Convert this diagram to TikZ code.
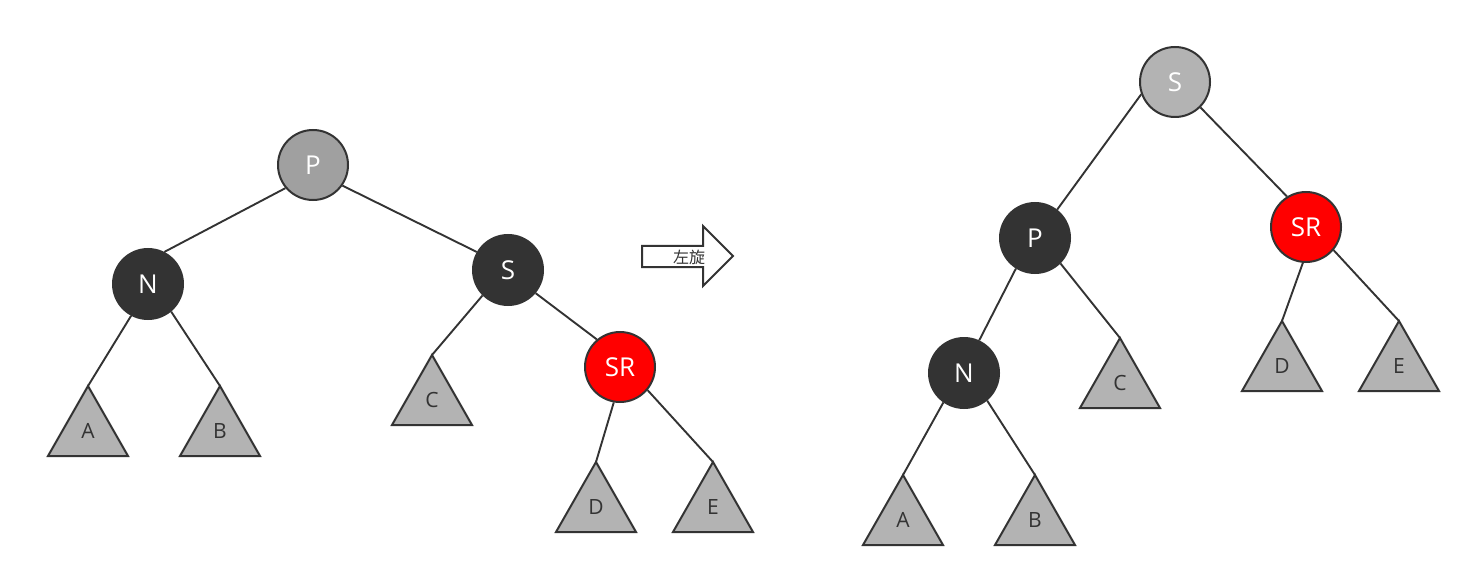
\documentclass[tikz,border=0pt]{standalone}
\usepackage{fontspec}
\setmainfont{Open Sans}
\newfontfamily\cjk{Noto Sans CJK SC}
\definecolor{ink}{HTML}{333333}
\definecolor{midgray}{HTML}{A0A0A0}
\definecolor{lightgray}{HTML}{B3B3B3}
\definecolor{redfill}{HTML}{FF0000}
\begin{document}
\begin{tikzpicture}[x=1pt,y=-1pt,
  rbnode/.style={circle, draw=ink, line width=2pt, inner sep=0pt,
    minimum size=70pt, text=white, font=\fontsize{26}{26}\selectfont},
  blacknode/.style={rbnode, fill=ink},
  rednode/.style={rbnode, fill=redfill},
  graynode/.style={rbnode, fill=midgray},
  lgraynode/.style={rbnode, fill=lightgray},
  subtree/.style={draw=ink, line width=2pt, fill=lightgray, line join=miter},
  sublabel/.style={text=ink, font=\fontsize{21}{21}\selectfont, inner sep=0pt},
  link/.style={draw=ink, line width=1.9pt}
]
\useasboundingbox (0,0) rectangle (1471,577);

% subtree triangle: apex name, apex x, apex y, label
\newcommand{\subtri}[4]{%
  \coordinate (#1) at (#2,#3);
  \path[subtree] (#1) -- ++(40,70) -- ++(-80,0) -- cycle;
  \node[sublabel] (#1lbl) at (#2,#3+45) {#4};
}

% ---- tree before the rotation ----
\node[graynode]  (P1)  at (313,165) {P};
\node[blacknode] (N1)  at (148,284) {N};
\node[blacknode] (S1)  at (508,270) {S};
\node[rednode]   (SR1) at (620,367) {SR};

\subtri{A1}{88}{386}{A}
\subtri{B1}{220}{386}{B}
\subtri{C1}{432}{355}{C}
\subtri{D1}{596}{462}{D}
\subtri{E1}{713}{462}{E}

\draw[link] (P1.220) -- (N1.63);
\draw[link] (P1.-35) -- (S1.150);
\draw[link] (N1.-118) -- (A1);
\draw[link] (N1.-50) -- (B1);
\draw[link] (S1.-135) -- (C1);
\draw[link] (S1.-40) -- (SR1.130);
\draw[link] (SR1.-100) -- (D1);
\draw[link] (SR1.-40) -- (E1);

% ---- rotation arrow ----
\draw[draw=ink, fill=white, line width=2pt, line join=miter]
  (642,246) -- (703,246) -- (703,226) -- (733,256) -- (703,286)
  -- (703,267) -- (642,267) -- cycle;
\node[text=ink, font=\cjk\fontsize{16}{16}\selectfont, inner sep=0pt] (rotlbl) at (689,257) {左旋};

% ---- tree after the rotation ----
\node[lgraynode] (S2)  at (1175,82) {S};
\node[blacknode] (P2)  at (1035,238) {P};
\node[rednode]   (SR2) at (1306,227) {SR};
\node[blacknode] (N2)  at (964,373) {N};

\subtri{C2}{1120}{338}{C}
\subtri{D2}{1282}{321}{D}
\subtri{E2}{1399}{321}{E}
\subtri{A2}{903}{475}{A}
\subtri{B2}{1035}{475}{B}

\draw[link] (S2.-160) -- (P2.52);
\draw[link] (S2.-45) -- (SR2.122);
\draw[link] (P2.-122) -- (N2.65);
\draw[link] (P2.-45) -- (C2);
\draw[link] (SR2.-95) -- (D2);
\draw[link] (SR2.-40) -- (E2);
\draw[link] (N2.-125) -- (A2);
\draw[link] (N2.-50) -- (B2);
\end{tikzpicture}
\end{document}
